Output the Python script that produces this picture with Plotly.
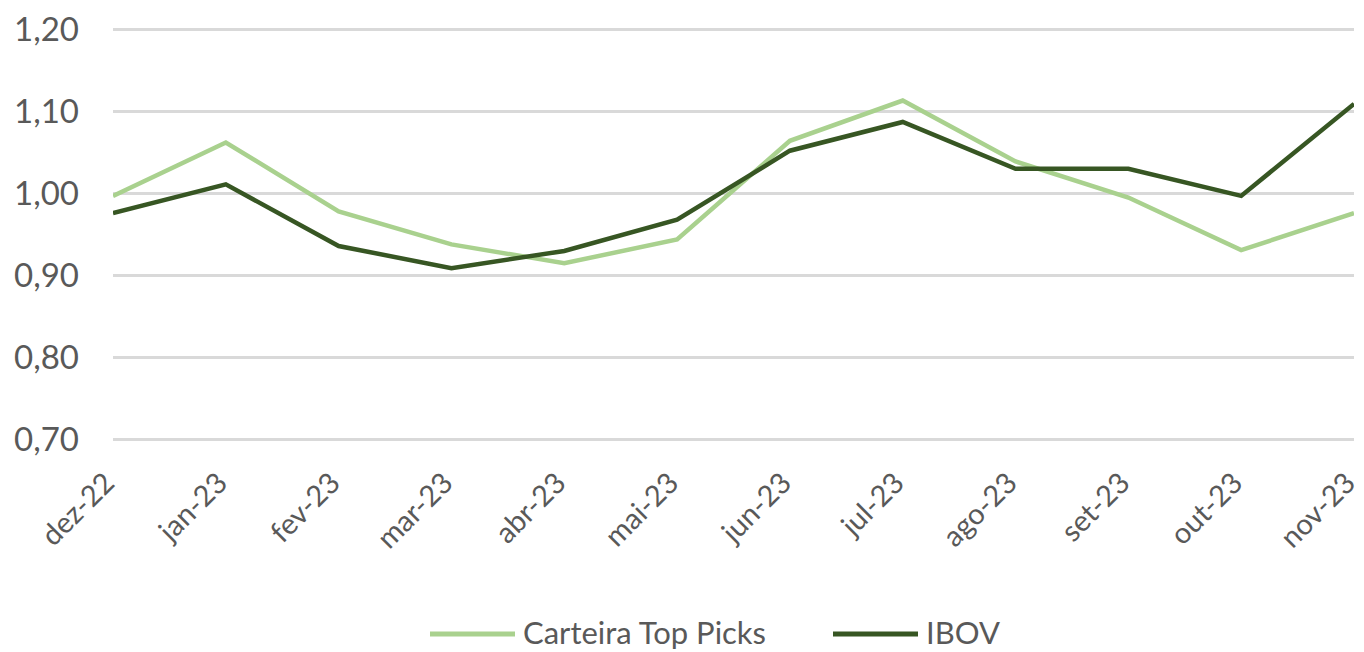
import plotly.graph_objects as go

categories = ["dez-22", "jan-23", "fev-23", "mar-23", "abr-23", "mai-23",
              "jun-23", "jul-23", "ago-23", "set-23", "out-23", "nov-23"]
carteira = [0.997, 1.062, 0.978, 0.938, 0.915, 0.944, 1.064, 1.113, 1.039, 0.995, 0.931, 0.976]
ibov = [0.976, 1.011, 0.936, 0.909, 0.930, 0.968, 1.052, 1.087, 1.030, 1.030, 0.997, 1.109]
series_names = ["Carteira Top Picks", "IBOV"]
series_colors = ["#a9d18e", "#375623"]

# the page body has an 8px margin, so the figure is sized to fit the window
OFF = 8
W, H = 1364 - OFF, 652 - OFF
L, R, T, B = 105, 10, 17, 208

fig = go.Figure()
for name, vals, col in zip(series_names, [carteira, ibov], series_colors):
    fig.add_trace(go.Scatter(x=categories, y=vals, mode="lines", name=name,
                             line=dict(color=col, width=4.5), showlegend=False))

# custom legend (long line symbols like the original)
pw, ph = W - L - R, H - T - B
def px_x(p):
    return (p - OFF - L) / pw
def px_y(p):
    return (H - B - (p - OFF)) / ph

LEG_Y = 632
legend_items = [(430, 515, 521), (833, 918, 924)]
for (x0, x1, tx), name, col in zip(legend_items, series_names, series_colors):
    fig.add_shape(type="line", xref="paper", yref="paper",
                  x0=px_x(x0), x1=px_x(x1), y0=px_y(LEG_Y + 2), y1=px_y(LEG_Y + 2),
                  line=dict(color=col, width=5))
    fig.add_annotation(xref="paper", yref="paper", x=px_x(tx), y=px_y(LEG_Y),
                       xanchor="left", yanchor="middle", showarrow=False, text=name,
                       font=dict(size=31, color="#595959"))

fig.update_layout(
    width=W, height=H,
    paper_bgcolor="white", plot_bgcolor="white",
    separators=", ",
    font=dict(family="Lato, 'Open Sans', sans-serif", color="#595959", size=31),
    margin=dict(l=L, r=R, t=T, b=B),
    showlegend=False,
)
fig.update_xaxes(type="category", range=[0, 11], tickangle=-45, showgrid=False,
                 showline=False, ticks="", automargin=False, ticklabelstandoff=15,
                 ticklabelshift=-7, ticklabeloverflow="allow",
                 tickfont=dict(size=29, color="#595959"))
fig.update_yaxes(range=[0.695, 1.205], dtick=0.1, tick0=0.7, tickformat=".2f",
                 showgrid=True, gridcolor="#d9d9d9", gridwidth=3, zeroline=False,
                 showline=False, ticks="", ticklabelstandoff=33, automargin=False,
                 ticklabeloverflow="allow",
                 tickfont=dict(size=33, color="#595959"))

fig.write_html("out.html")
